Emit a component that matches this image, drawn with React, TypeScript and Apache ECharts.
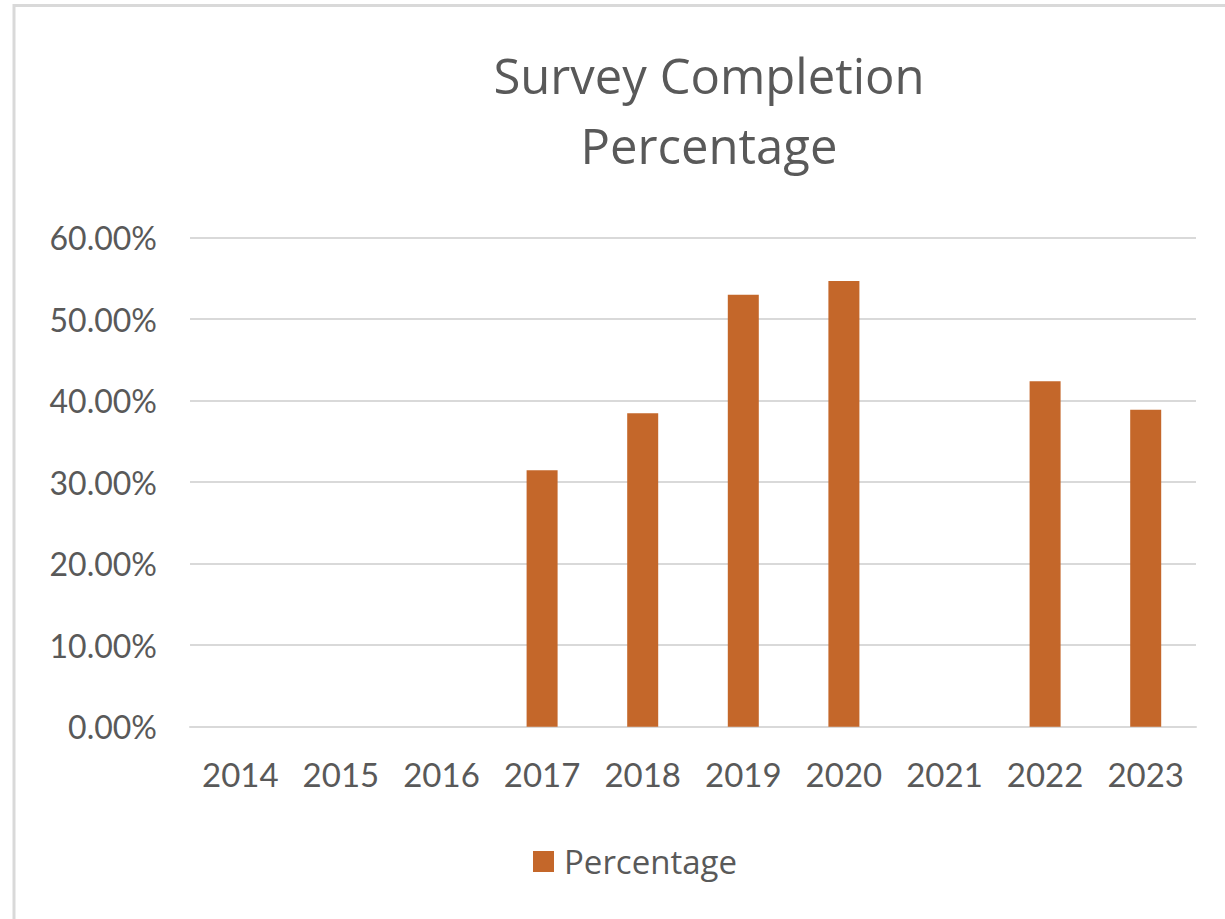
import React, { useEffect, useRef } from "react";
import * as echarts from "echarts";

const titleLines = ["Survey Completion", "Percentage"];
const categories = ["2014", "2015", "2016", "2017", "2018", "2019", "2020", "2021", "2022", "2023"];
const percentages: (number | null)[] = [null, null, null, 0.3146, 0.3845, 0.530, 0.547, null, 0.424, 0.389];
const seriesName = "Percentage";
const yTicks = { min: 0, max: 0.6, interval: 0.1 };

const TEXT = "#595959";
const BAR = "#C4672A";
const GRID = "#D9D9D9";
const FONT = "Lato, 'Open Sans', sans-serif";
const FONT2 = "'Open Sans', Lato, sans-serif";

export default function App() {
  const ref = useRef<HTMLDivElement>(null);
  useEffect(() => {
    if (!ref.current) return;
    const chart = echarts.init(ref.current, undefined, { renderer: "svg" });
    chart.setOption({
      animation: false,
      backgroundColor: "#ffffff",
      graphic: [
        {
          type: "rect",
          shape: { x: 14, y: 5.5, width: 1400, height: 1200 },
          style: { fill: "none", stroke: GRID, lineWidth: 3 },
          silent: true,
        },
        {
          type: "text",
          x: 709,
          y: 75,
          style: {
            text: titleLines[0],
            align: "center",
            verticalAlign: "middle",
            fill: TEXT,
            font: `49px ${FONT2}`,
          },
        },
        {
          type: "text",
          x: 709,
          y: 145,
          style: {
            text: titleLines[1],
            align: "center",
            verticalAlign: "middle",
            fill: TEXT,
            font: `49px ${FONT2}`,
          },
        },
      ],
      legend: {
        show: true,
        left: 528,
        top: 840,
        itemWidth: 21,
        itemHeight: 21,
        icon: "rect",
        textStyle: { color: TEXT, fontSize: 33, fontFamily: FONT2, padding: [0, 0, 0, 5] },
        data: [seriesName],
      },
      grid: { left: 190, right: 29, top: 237.7, bottom: 192.3, containLabel: false },
      xAxis: {
        type: "category",
        data: categories,
        axisLine: { lineStyle: { color: GRID, width: 2 } },
        axisTick: { show: false },
        axisLabel: { color: TEXT, fontSize: 33, fontFamily: FONT, margin: 31, interval: 0 },
      },
      yAxis: {
        type: "value",
        min: yTicks.min,
        max: yTicks.max,
        interval: yTicks.interval,
        axisLine: { show: false },
        axisTick: { show: false },
        splitLine: { lineStyle: { color: GRID, width: 2 } },
        axisLabel: {
          color: TEXT,
          fontSize: 32,
          fontFamily: FONT,
          margin: 33,
          formatter: (v: number) => (v * 100).toFixed(2) + "%",
        },
      },
      series: [
        {
          name: seriesName,
          type: "bar",
          data: percentages,
          barWidth: 31,
          itemStyle: { color: BAR },
        },
      ],
    });
    return () => chart.dispose();
  }, []);
  return (
    <div
      ref={ref}
      style={{ position: "fixed", left: 0, top: 0, width: 1225, height: 919, background: "#fff" }}
    />
  );
}
